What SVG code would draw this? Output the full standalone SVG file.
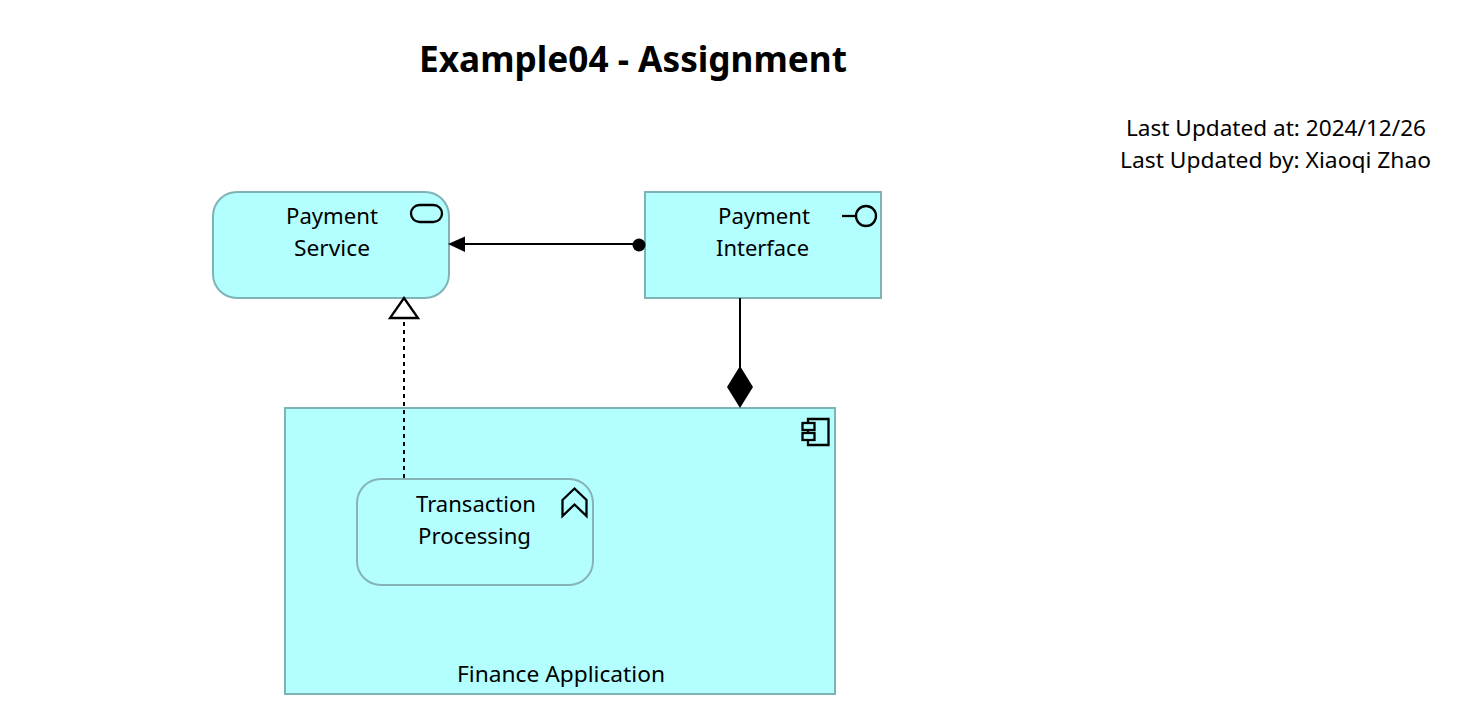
<svg xmlns="http://www.w3.org/2000/svg" width="1482" height="716" viewBox="0 0 1482 716">
<style>
text{font-family:"Noto Sans","Open Sans","DejaVu Sans",sans-serif;font-size:22px;fill:#000;text-anchor:middle}
.t{font-size:35px;font-weight:700}
.box{fill:#b3ffff;stroke:#7fb3b5;stroke-width:2}
.in{stroke:#85b3b8}
.ic{fill:none;stroke:#000;stroke-width:2.300}
.tab{fill:#b3ffff;stroke:#000;stroke-width:2.300}
.l{fill:none;stroke:#000;stroke-width:2}
</style>
<rect width="1482" height="716" fill="#fff"/>
<text class="t" x="633" y="72" textLength="428" lengthAdjust="spacingAndGlyphs">Example04 - Assignment</text>
<text x="1276" y="136" textLength="300" lengthAdjust="spacingAndGlyphs">Last Updated at: 2024/12/26</text>
<text x="1275.500" y="168" textLength="311" lengthAdjust="spacingAndGlyphs">Last Updated by: Xiaoqi Zhao</text>
<g id="payment-service">
<rect class="box" x="213" y="192" width="236" height="106" rx="24" ry="24"/>
<rect class="ic" x="411" y="205" width="31" height="17" rx="8.500" ry="8.500"/>
<text x="332" y="224" textLength="92" lengthAdjust="spacingAndGlyphs">Payment</text><text x="332" y="256" textLength="76" lengthAdjust="spacingAndGlyphs">Service</text>
</g>
<g id="payment-interface">
<rect class="box" x="645" y="192" width="236" height="106"/>
<circle class="ic" cx="866" cy="216" r="10"/><path class="ic" d="M842 216H856"/>
<text x="764" y="224" textLength="92" lengthAdjust="spacingAndGlyphs">Payment</text><text x="762.500" y="256" textLength="93" lengthAdjust="spacingAndGlyphs">Interface</text>
</g>
<g id="finance-application">
<rect class="box" x="285" y="408" width="550" height="286"/>
<path class="ic" d="M808 419H828.500V445H808Z"/>
<rect class="tab" x="802.500" y="423" width="12" height="7"/>
<rect class="tab" x="802.500" y="433" width="12" height="7"/>
<text x="561" y="682" textLength="208" lengthAdjust="spacingAndGlyphs">Finance Application</text>
</g>
<g id="transaction-processing">
<rect class="box in" x="357" y="479" width="236" height="106" rx="24" ry="24"/>
<path class="ic" d="M562.500 500L574.500 488.500L586.500 500V516L574.500 504.500L562.500 516Z"/>
<text x="476" y="512" textLength="120" lengthAdjust="spacingAndGlyphs">Transaction</text><text x="474.500" y="544" textLength="113" lengthAdjust="spacingAndGlyphs">Processing</text>
</g>
<g id="connectors">
<path class="l" d="M645 244H462"/>
<circle cx="639" cy="245" r="6.500" fill="#000"/>
<path d="M448 244L465 236.500V252Z" fill="#000"/>
<path class="l" d="M404 322V479" stroke-dasharray="4 4"/>
<path d="M404 298L418 318H390Z" fill="#fff" stroke="#000" stroke-width="2.300"/>
<path class="l" d="M740 298V370"/>
<path d="M740 366L753 387L740 408L727 387Z" fill="#000"/>
</g>
</svg>
